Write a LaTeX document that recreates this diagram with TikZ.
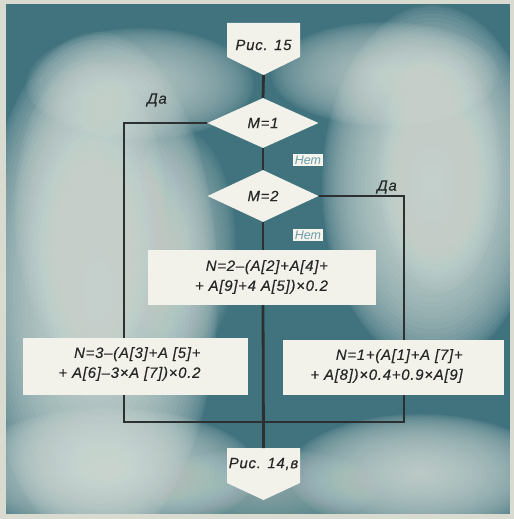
\documentclass[tikz,border=0pt]{standalone}
\usepackage{fontspec}
\setmainfont{Liberation Sans}
\usetikzlibrary{shapes.geometric,calc}

\pgfdeclarelayer{back}
\pgfdeclarelayer{mid}
\pgfsetlayers{back,mid,main}

\definecolor{panel}{HTML}{41737F}
\definecolor{frame}{HTML}{D9DAD0}
\definecolor{haze}{HTML}{DCE5DF}
\definecolor{paper}{HTML}{F3F2EA}
\definecolor{ink}{HTML}{262828}
\definecolor{wirec}{HTML}{2C3030}
\definecolor{notag}{HTML}{6E9CA9}

\newfontfamily\tracked[LetterSpace=5, FakeBold=0.4]{Liberation Sans}

\tikzset{
  lbl/.style={font=\tracked\itshape\fontsize{15}{20}\selectfont, text=ink, inner sep=0pt},
  box/.style={fill=paper, inner sep=0pt},
  choice/.style={diamond, aspect=2.2, fill=paper, inner sep=0pt,
    minimum width=111bp, minimum height=50bp, lbl},
  wire/.style={draw=wirec, line width=2.8bp},
  noflag/.style={fill=paper!85!white, text=notag, inner sep=1.5pt,
    font=\itshape\fontsize{12.5}{14}\selectfont},
  % a soft light cloud: stacked faint ellipses, x radius / y radius / opacity
  pics/cloud/.style args={#1/#2/#3}{code={
    \foreach \k in {0,...,29}{
      \pgfmathsetmacro\f{1-(\k/31)^1.3}
      \fill[haze, fill opacity=#3]
        (0,0) ellipse [x radius={#1*\f}, y radius={#2*\f}];
    }}},
}

\begin{document}
\begin{tikzpicture}[x=1bp, y=-1bp]
\useasboundingbox (0,0) rectangle (514,519);

% panel with its cloudy light patches
\begin{pgfonlayer}{back}
  \fill[frame] (0,0) rectangle (514,519);
  \fill[panel] (6,4) rectangle (510,514);
  \begin{scope}
    \clip (6,4) rectangle (510,514);
    \pic at (98,290) {cloud=120/258/0.068};
    \pic at (90,210) {cloud=76/150/0.045};
    \pic at (432,185) {cloud=110/180/0.068};
    \pic at (440,170) {cloud=62/122/0.038};
    \pic at (110,472) {cloud=148/64/0.053};
    \pic at (420,474) {cloud=132/60/0.053};
    \pic at (263,488) {cloud=118/40/0.023};
    \pic at (140,84) {cloud=114/56/0.045};
    \pic at (385,74) {cloud=114/52/0.045};
    \pic at (180,245) {cloud=56/116/0.03};
  \end{scope}
\end{pgfonlayer}

% terminals
\node[lbl] (start) at (263.5,45) {Рис. 15};
\node[lbl] (finish) at (263.5,464) {Рис. 14,в};
\coordinate (starttip) at ($(start)+(0,30)$);
\coordinate (finishtop) at ($(finish)+(0,-16)$);
\begin{pgfonlayer}{mid}
  \fill[paper] ($(start)+(-36.5,-22)$) -- ++(73,0) -- ++(0,34)
    -- ++(-36.5,18) -- ++(-36.5,-18) -- cycle;
  \fill[paper] ($(finish)+(-36.5,-16)$) -- ++(73,0) -- ++(0,35)
    -- ++(-36.5,17) -- ++(-36.5,-17) -- cycle;
\end{pgfonlayer}

% decisions
\node[choice] (d1) at (263,123) {M=1};
\node[choice, minimum height=52bp] (d2) at (263,196) {M=2};

% assignments
\node[box, minimum width=228bp, minimum height=55bp] (mbox) at (262,277.5) {};
\node[lbl, align=right] (mtext) at (261.5,277) {N=2–(A[2]+A[4]+\\+ A[9]+4 A[5])×0.2};
\node[box, minimum width=225bp, minimum height=57bp] (lbox) at (135.5,366.5) {};
\node[lbl, align=right] (ltext) at (129.5,364) {N=3–(A[3]+A [5]+\\+ A[6]–3×A [7])×0.2};
\node[box, minimum width=221bp, minimum height=55bp] (rbox) at (393.5,367.5) {};
\node[lbl, align=right] (rtext) at (386.5,366) {N=1+(A[1]+A [7]+\\+ A[8])×0.4+0.9×A[9]};

% branch labels
\node[lbl] (yes1) at (157,100) {Да};
\node[lbl] (yes2) at (387,187) {Да};
\node[noflag] (no1) at (308,160) {Нет};
\node[noflag] (no2) at (308,235) {Нет};

% connectors
\coordinate (lcol) at (124,123);
\coordinate (rcol) at (404,196);
\coordinate (bus) at (263,422);
\begin{pgfonlayer}{mid}
  \draw[wire] (starttip) -- (d1.north);
  \draw[wire] (d1.south) -- (d2.north);
  \draw[wire] (d2.south) -- (d2.south |- mbox.north);
  \draw[wire] (d2.south |- mbox.south) -- (finishtop);
  \draw[wire] (d1.west) -- (lcol) -- (lcol |- lbox.north);
  \draw[wire] (d2.east) -- (rcol) -- (rcol |- rbox.north);
  \draw[wire] (lcol |- lbox.south) -- (lcol |- bus) -- (rcol |- bus) -- (rcol |- rbox.south);
\end{pgfonlayer}
\end{tikzpicture}
\end{document}
